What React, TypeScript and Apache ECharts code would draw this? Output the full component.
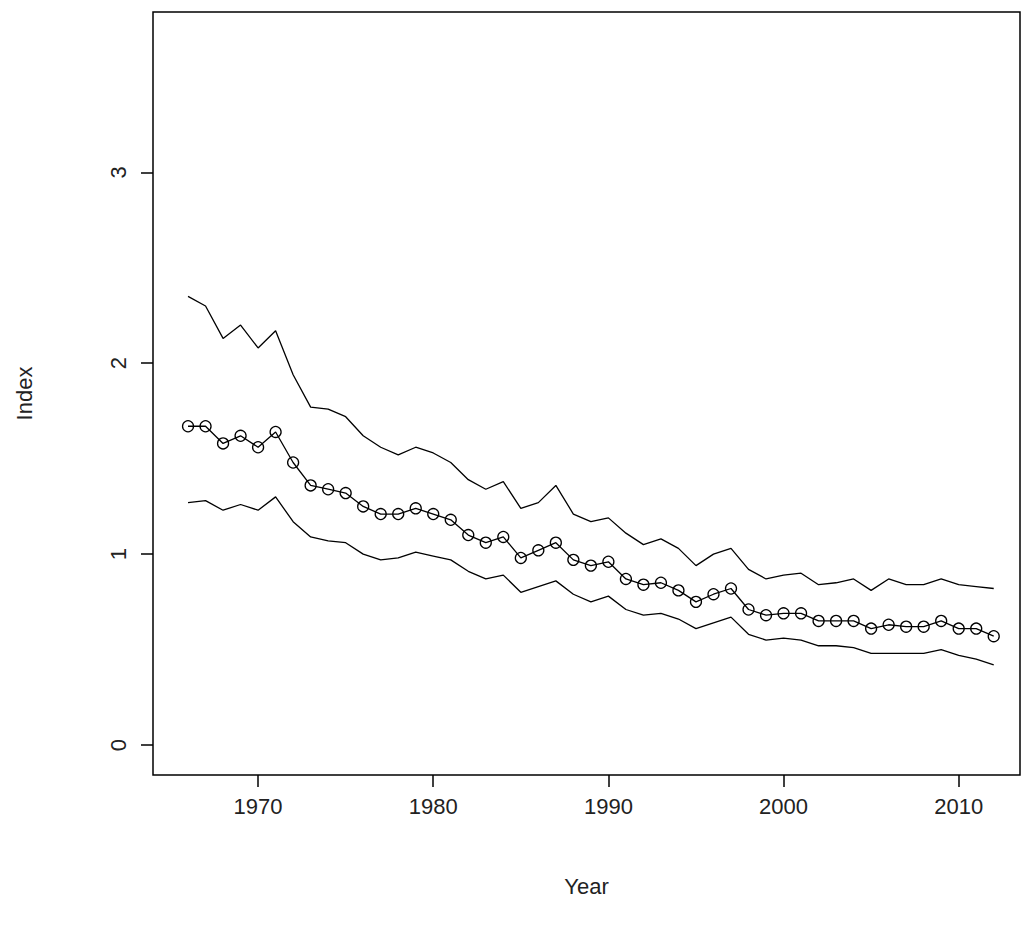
import { useEffect, useRef } from "react";
import * as echarts from "echarts";

const years = Array.from({ length: 47 }, (_, i) => 1966 + i);
const indexValues = [1.67, 1.67, 1.58, 1.62, 1.56, 1.64, 1.48, 1.36, 1.34, 1.32, 1.25, 1.21, 1.21, 1.24, 1.21, 1.18, 1.10, 1.06, 1.09, 0.98, 1.02, 1.06, 0.97, 0.94, 0.96, 0.87, 0.84, 0.85, 0.81, 0.75, 0.79, 0.82, 0.71, 0.68, 0.69, 0.69, 0.65, 0.65, 0.65, 0.61, 0.63, 0.62, 0.62, 0.65, 0.61, 0.61, 0.57];
const upperValues = [2.35, 2.30, 2.13, 2.20, 2.08, 2.17, 1.94, 1.77, 1.76, 1.72, 1.62, 1.56, 1.52, 1.56, 1.53, 1.48, 1.39, 1.34, 1.38, 1.24, 1.27, 1.36, 1.21, 1.17, 1.19, 1.11, 1.05, 1.08, 1.03, 0.94, 1.00, 1.03, 0.92, 0.87, 0.89, 0.90, 0.84, 0.85, 0.87, 0.81, 0.87, 0.84, 0.84, 0.87, 0.84, 0.83, 0.82];
const lowerValues = [1.27, 1.28, 1.23, 1.26, 1.23, 1.30, 1.17, 1.09, 1.07, 1.06, 1.00, 0.97, 0.98, 1.01, 0.99, 0.97, 0.91, 0.87, 0.89, 0.80, 0.83, 0.86, 0.79, 0.75, 0.78, 0.71, 0.68, 0.69, 0.66, 0.61, 0.64, 0.67, 0.58, 0.55, 0.56, 0.55, 0.52, 0.52, 0.51, 0.48, 0.48, 0.48, 0.48, 0.50, 0.47, 0.45, 0.42];
const xTicks = [1970, 1980, 1990, 2000, 2010];
const yTicks = [0, 1, 2, 3];

const FONT = "'Liberation Sans', Arial, sans-serif";
const TEXT = "#222";

export default function App() {
  const ref = useRef<HTMLDivElement | null>(null);

  useEffect(() => {
    if (!ref.current) return;
    const chart = echarts.init(ref.current, undefined, { renderer: "svg" });
    const pair = (vals: number[]) => vals.map((v, i) => [years[i], v]);
    const plain = (name: string, vals: number[]) => ({
      name,
      type: "line",
      data: pair(vals),
      showSymbol: false,
      symbol: "none",
      lineStyle: { color: "#000", width: 1.3 },
    });
    chart.setOption({
      animation: false,
      backgroundColor: "#fff",
      grid: { left: 153, right: 2, top: 12, bottom: 150, show: true, borderColor: "#000", borderWidth: 1.5 },
      xAxis: {
        type: "value",
        min: 1964,
        max: 2013.5,
        name: "Year",
        nameLocation: "middle",
        nameGap: 100,
        nameTextStyle: { color: TEXT, fontSize: 22, fontFamily: FONT },
        axisLine: { show: false, onZero: false },
        splitLine: { show: false },
        axisTick: { show: true, inside: false, length: 12, customValues: xTicks, lineStyle: { color: "#000", width: 1.5 } },
        axisLabel: { customValues: xTicks, color: TEXT, fontSize: 22, fontFamily: FONT, margin: 20, formatter: (v: number) => String(v) },
      },
      yAxis: {
        type: "value",
        min: -0.157,
        max: 3.84,
        name: "Index",
        nameLocation: "middle",
        nameGap: 118,
        nameRotate: 90,
        nameTextStyle: { color: TEXT, fontSize: 22, fontFamily: FONT },
        axisLine: { show: false, onZero: false },
        splitLine: { show: false },
        axisTick: { show: true, inside: false, length: 12, customValues: yTicks, lineStyle: { color: "#000", width: 1.5 } },
        axisLabel: { customValues: yTicks, color: TEXT, fontSize: 22, fontFamily: FONT, rotate: 90, margin: 24 },
      },
      series: [
        plain("upper", upperValues),
        plain("lower", lowerValues),
        {
          name: "index",
          type: "line",
          data: pair(indexValues),
          symbol: "circle",
          symbolSize: 11,
          showSymbol: true,
          lineStyle: { color: "#000", width: 1.3 },
          itemStyle: { color: "rgba(0,0,0,0)", borderColor: "#000", borderWidth: 1.3 },
        },
      ],
    });
    return () => chart.dispose();
  }, []);

  return <div ref={ref} style={{ position: "absolute", left: 0, top: 0, width: 1022, height: 925 }} />;
}
